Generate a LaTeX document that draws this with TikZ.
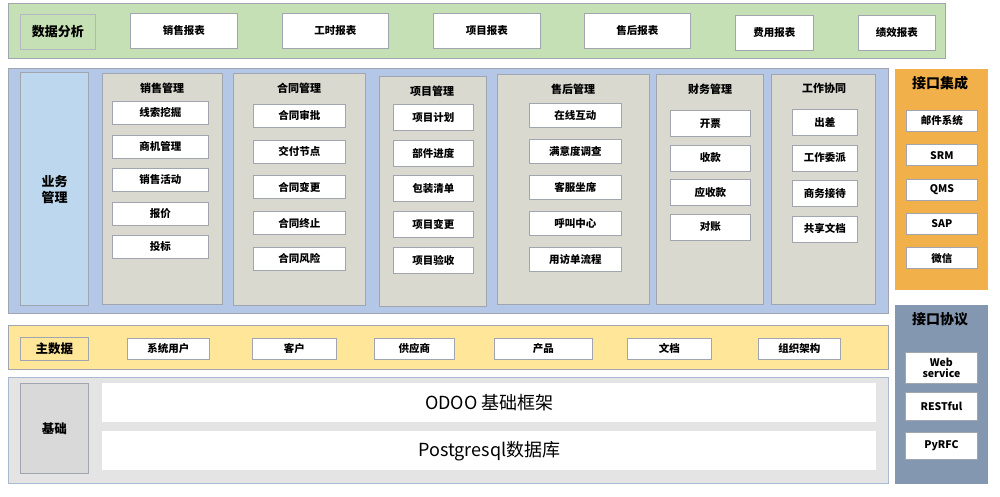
\documentclass[tikz,border=0pt]{standalone}
\usepackage{fontspec}
\setmainfont{Noto Sans CJK SC}
\usepackage{tikz}
\usetikzlibrary{positioning}
\definecolor{greenband}{RGB}{197,224,180}
\definecolor{blueband}{RGB}{180,199,231}
\definecolor{bluelabel}{RGB}{189,215,238}
\definecolor{graycol}{RGB}{217,217,208}
\definecolor{orangeband}{RGB}{242,176,74}
\definecolor{slateband}{RGB}{132,151,176}
\definecolor{yellowband}{RGB}{255,230,153}
\definecolor{grayband}{RGB}{217,217,217}
\definecolor{edgegray}{RGB}{160,165,175}

\tikzset{
  band/.style={draw=edgegray, line width=1.2pt, anchor=north west, inner sep=0pt},
  item/.style={draw=edgegray, line width=0.8pt, fill=white, anchor=north west,
    inner sep=0pt, font=\bfseries\fontsize{10.5}{12}\selectfont, align=center},
  coltitle/.style={font=\bfseries\fontsize{11}{13}\selectfont, anchor=north},
}

\begin{document}
\begin{tikzpicture}[x=1pt, y=-1pt]
\useasboundingbox (0,0) rectangle (1000,496);
% data analysis band
\node[band, fill=greenband, minimum width=937, minimum height=55] (ana) at (8,3) {};
\node[item, fill=greenband, draw=edgegray!80, minimum width=75, minimum height=35,
  font=\bfseries\fontsize{13}{15}\selectfont] (analabel) at (20,14) {数据分析};
\node[item, minimum width=107, minimum height=35] (rep1) at (130,13) {销售报表};
\node[item, minimum width=106, minimum height=35] (rep2) at (282,13) {工时报表};
\node[item, minimum width=107, minimum height=35] (rep3) at (433,13) {项目报表};
\node[item, minimum width=106, minimum height=35] (rep4) at (584,13) {售后报表};
\node[item, minimum width=78, minimum height=35] (rep5) at (735,15) {费用报表};
\node[item, minimum width=77, minimum height=35] (rep6) at (858,15) {绩效报表};

% business band
\node[band, fill=blueband, minimum width=880, minimum height=245] (biz) at (8,68) {};
\node[band, fill=bluelabel, minimum width=68, minimum height=233,
  font=\bfseries\fontsize{13}{16}\selectfont, align=center] (bizlabel) at (20,72) {业务\\管理};

\node[band, fill=graycol, minimum width=120, minimum height=231] (sal) at (102,73) {};
\node[coltitle] at (162,79) {销售管理};
\foreach \t [count=\i] in {线索挖掘,商机管理,销售活动,报价,投标}
  \node[item, minimum width=96, minimum height=23] (sal-\i) at (112,{101+33.5*(\i-1)}) {\t};

\node[band, fill=graycol, minimum width=132, minimum height=232] (con) at (233,73) {};
\node[coltitle] at (299,79) {合同管理};
\foreach \t [count=\i] in {合同审批,交付节点,合同变更,合同终止,合同风险}
  \node[item, minimum width=92, minimum height=23] (con-\i) at (253,{104+35.7*(\i-1)}) {\t};

\node[band, fill=graycol, minimum width=107, minimum height=230] (prj) at (379,76) {};
\node[coltitle] at (432,82) {项目管理};
\foreach \t [count=\i] in {项目计划,部件进度,包装清单,项目变更,项目验收}
  \node[item, minimum width=80, minimum height=26] (prj-\i) at (393,{104+35.7*(\i-1)}) {\t};

\node[band, fill=graycol, minimum width=152, minimum height=230] (aft) at (497,74) {};
\node[coltitle] at (573,80) {售后管理};
\foreach \t [count=\i] in {在线互动,满意度调查,客服坐席,呼叫中心,用访单流程}
  \node[item, minimum width=92, minimum height=24] (aft-\i) at (529,{103+36*(\i-1)}) {\t};

\node[band, fill=graycol, minimum width=107, minimum height=230] (fin) at (656,74) {};
\node[coltitle] at (710,80) {财务管理};
\foreach \t [count=\i] in {开票,收款,应收款,对账}
  \node[item, minimum width=80, minimum height=26] (fin-\i) at (670,{110+34.5*(\i-1)}) {\t};

\node[band, fill=graycol, minimum width=104, minimum height=230] (cop) at (771,74) {};
\node[coltitle] at (824,80) {工作协同};
\foreach \t [count=\i] in {出差,工作委派,商务接待,共享文档}
  \node[item, minimum width=65, minimum height=26] (cop-\i) at (792,{109+35.5*(\i-1)}) {\t};

% interface integration
\node[band, draw=none, fill=orangeband, minimum width=93, minimum height=221] (intg) at (894,68) {};
\node[coltitle, font=\bfseries\fontsize{14}{16}\selectfont] at (940,73) {接口集成};
\foreach \t [count=\i] in {邮件系统,SRM,QMS,SAP,微信}
  \node[item, minimum width=71, minimum height=21] (intg-\i) at (906,{110+34.3*(\i-1)}) {\t};

% interface protocols
\node[band, draw=none, fill=slateband, minimum width=93, minimum height=179] (prot) at (894,304) {};
\node[coltitle, font=\bfseries\fontsize{14}{16}\selectfont] at (940,309) {接口协议};
\node[item, minimum width=72, minimum height=31, font=\bfseries\fontsize{10.5}{11}\selectfont] (prot-1) at (905,352) {Web\\service};
\node[item, minimum width=72, minimum height=28] (prot-2) at (905,392) {RESTful};
\node[item, minimum width=72, minimum height=27] (prot-3) at (905,432) {PyRFC};

% master data
\node[band, fill=yellowband, minimum width=880, minimum height=44] (mst) at (8,325) {};
\node[item, fill=yellowband, minimum width=68, minimum height=23,
  font=\bfseries\fontsize{12.5}{14}\selectfont] (mstlabel) at (20,337) {主数据};
\node[item, minimum width=82, minimum height=21] (mst-1) at (127,338) {系统用户};
\node[item, minimum width=84, minimum height=21] (mst-2) at (252,338) {客户};
\node[item, minimum width=80, minimum height=21] (mst-3) at (374,338) {供应商};
\node[item, minimum width=98, minimum height=21] (mst-4) at (494,338) {产品};
\node[item, minimum width=84, minimum height=21] (mst-5) at (627,338) {文档};
\node[item, minimum width=82, minimum height=21] (mst-6) at (758,338) {组织架构};

% base
\node[band, draw=blueband!80!gray, fill=grayband!70!white, minimum width=880, minimum height=106] (base) at (8,377) {};
\node[item, fill=grayband, minimum width=68, minimum height=90,
  font=\bfseries\fontsize{12.5}{14}\selectfont] (baselabel) at (20,383) {基础};
\node[item, draw=none, minimum width=774, minimum height=39,
  font=\fontsize{18}{21}\selectfont] (odoo) at (102,383) {ODOO 基础框架};
\node[item, draw=none, minimum width=774, minimum height=39,
  font=\fontsize{18}{21}\selectfont] (pg) at (102,431) {Postgresql数据库};
\end{tikzpicture}
\end{document}
